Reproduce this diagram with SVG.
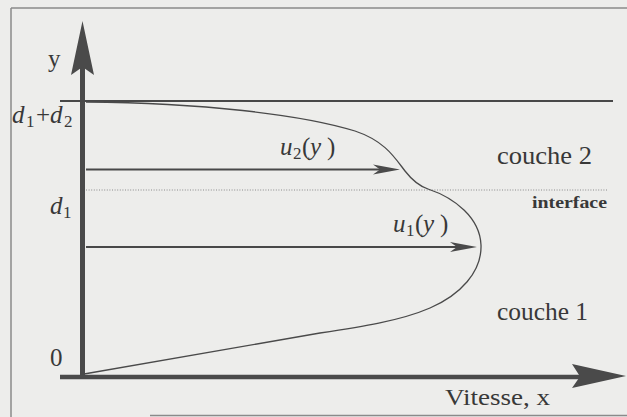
<svg xmlns="http://www.w3.org/2000/svg" width="627" height="417" viewBox="0 0 627 417">
  <style>
    .frame { stroke: #8a8a8a; stroke-width: 1.5; fill: none; }
    .axis { stroke: #4a4a4a; fill: none; }
    .head { fill: #4a4a4a; stroke: none; }
    .line { stroke: #484848; fill: none; }
    .curve { stroke: #4a4a4a; stroke-width: 1.3; fill: none; }
    .dots { stroke: #8a8a8a; stroke-width: 1; stroke-dasharray: 1 1.6; fill: none; }
    text { font-family: "Liberation Serif", "DejaVu Serif", serif; fill: #383838; }
    .math { font-style: italic; }
    .big { font-size: 26px; }
    .lab { font-size: 25px; }
    .sub { font-size: 17px; }
  </style>
  <rect x="0" y="0" width="627" height="417" fill="#ededeb"/>

  <g id="frame">
    <line class="frame" x1="11" y1="8" x2="627" y2="8"/>
    <line class="frame" x1="11" y1="8" x2="11" y2="417"/>
    <line class="frame" x1="150" y1="415.5" x2="627" y2="415.5"/>
  </g>

  <g id="axes">
    <line class="axis" x1="82.5" y1="379" x2="82.5" y2="66" stroke-width="5"/>
    <polygon class="head" points="82.5,21 94,75 82.5,67 71,75"/>
    <line class="axis" x1="60" y1="377" x2="582" y2="377" stroke-width="4.5"/>
    <polygon class="head" points="626,376 572,388 580,376.5 572,364"/>
  </g>

  <g id="levels">
    <line class="line" x1="60" y1="101" x2="613" y2="101" stroke-width="2.2"/>
    <line class="dots" x1="86" y1="190" x2="608" y2="190"/>
  </g>

  <g id="profile">
    <path class="curve" d="M86,102 C200,103 300,114 355,131 C385,141 395,158 405,171 C412,180 419,186 428,189 C455,198 480,218 481,245 C482,272 460,295 430,308 C400,321 360,327 320,333 L84,374"/>
  </g>

  <g id="connectors">
    <g id="u2-arrow">
      <line class="line" x1="86" y1="169.5" x2="385" y2="169.5" stroke-width="1.8"/>
      <polygon class="head" points="400,169.5 373,174.5 380,169.5 373,164.5"/>
    </g>
    <g id="u1-arrow">
      <line class="line" x1="86" y1="247" x2="462" y2="247" stroke-width="1.8"/>
      <polygon class="head" points="477,247 450,252 457,247 450,242"/>
    </g>
  </g>

  <g id="labels">
    <text id="label-y" class="lab" x="48" y="67">y</text>
    <text id="label-d1d2" class="lab" y="123"><tspan class="math" x="12">d</tspan><tspan class="sub" x="26" y="127">1</tspan><tspan x="36" y="123">+</tspan><tspan class="math" x="50">d</tspan><tspan class="sub" x="64" y="127">2</tspan></text>
    <text id="label-d1" class="lab" y="214"><tspan class="math" x="50">d</tspan><tspan class="sub" x="63" y="218">1</tspan></text>
    <text id="label-0" class="lab" x="50" y="366">0</text>
    <text id="label-u2" class="lab" y="155"><tspan class="math" x="280">u</tspan><tspan class="sub" x="293" y="159">2</tspan><tspan x="302" y="155">(</tspan><tspan class="math" x="310">y</tspan><tspan x="327">)</tspan></text>
    <text id="label-u1" class="lab" y="232"><tspan class="math" x="393">u</tspan><tspan class="sub" x="406" y="236">1</tspan><tspan x="415" y="232">(</tspan><tspan class="math" x="423">y</tspan><tspan x="440">)</tspan></text>
    <text id="label-couche2" class="big" x="497" y="164" textLength="95" lengthAdjust="spacingAndGlyphs">couche 2</text>
    <text id="label-interface" x="532" y="208" font-size="17" font-weight="bold" textLength="75" lengthAdjust="spacingAndGlyphs">interface</text>
    <text id="label-couche1" class="big" x="497" y="319.5" textLength="91" lengthAdjust="spacingAndGlyphs">couche 1</text>
    <text id="label-vitesse" x="445" y="405" font-size="23" textLength="105" lengthAdjust="spacingAndGlyphs">Vitesse, x</text>
  </g>
</svg>
